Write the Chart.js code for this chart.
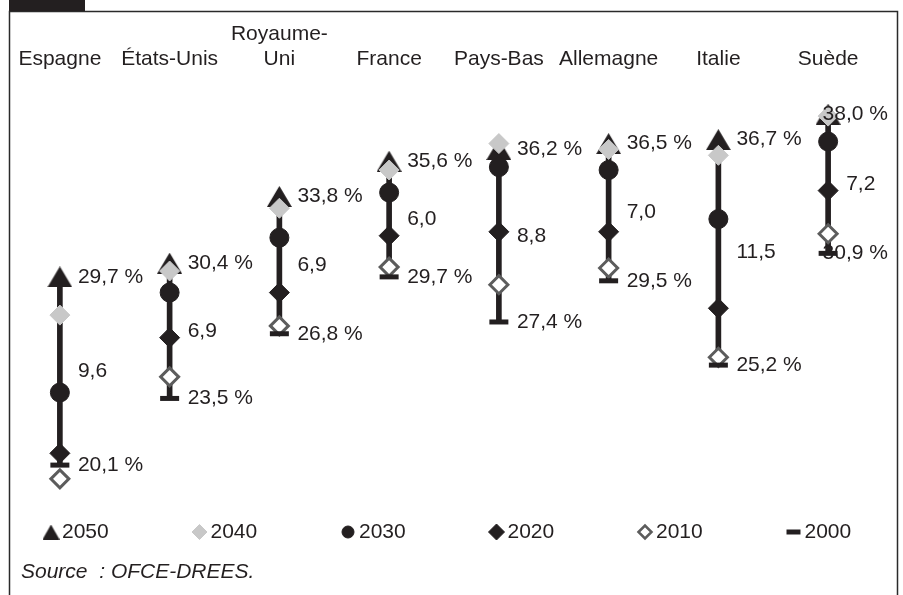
<!DOCTYPE html>
<html>
<head>
<meta charset="utf-8">
<script src="https://cdn.jsdelivr.net/npm/chart.js@4/dist/chart.umd.min.js"></script>
<style>
  html, body { margin: 0; padding: 0; background: #ffffff; }
  #wrap { width: 903px; height: 595px; position: relative; }
</style>
</head>
<body>
<div id="wrap"><canvas id="c"></canvas></div>
<script>
// ---- Data ----
const categories = ['Espagne', 'États-Unis', ['Royaume-', 'Uni'], 'France', 'Pays-Bas', 'Allemagne', 'Italie', 'Suède'];
const years = ['2050', '2040', '2030', '2020', '2010', '2000'];
const v2050 = [29.7, 30.4, 33.8, 35.6, 36.2, 36.5, 36.7, 38.0];
const v2040 = [27.75, 30.0, 33.2, 35.15, 36.5, 36.2, 35.9, 37.9];
const v2030 = [23.8, 28.9, 31.7, 34.0, 35.3, 35.15, 32.65, 36.6];
const v2020 = [20.7, 26.6, 28.9, 31.8, 32.0, 32.0, 28.1, 34.1];
const v2010 = [19.4, 24.6, 27.2, 30.2, 29.3, 30.15, 25.6, 31.9];
const v2000 = [20.1, 23.5, 26.8, 29.7, 27.4, 29.5, 25.2, 30.9];
const gaps  = [9.6, 6.9, 6.9, 6.0, 8.8, 7.0, 11.5, 7.2];
const sourceText = 'Source  : OFCE-DREES.';
const yMin = 18.32, yMax = 39.64;

const DARK = '#231f20';
const FONT = '"Liberation Sans", Arial, sans-serif';
const FS = 21;
const fmt = v => v.toFixed(1).replace('.', ',');

// triangle marker centred on its bounding box
function triangleCanvas(w, h, color) {
  const c = document.createElement('canvas');
  c.width = w; c.height = h;
  const g = c.getContext('2d');
  g.fillStyle = color;
  g.beginPath();
  g.moveTo(w / 2, 0);
  g.lineTo(w, h);
  g.lineTo(0, h);
  g.closePath();
  g.fill();
  return c;
}
const triBig = triangleCanvas(25, 21, DARK);
const triSmall = triangleCanvas(17, 15, DARK);

// marker styles (chart / legend)
const markerStyles = {
  '2050': { pointStyle: triBig, legendStyle: triSmall, fill: DARK, stroke: DARK, bw: 0, r: 12, lr: 8 },
  '2040': { pointStyle: 'rectRot', fill: '#c8c8c8', stroke: '#c8c8c8', bw: 1, r: 10, lr: 7.5 },
  '2030': { pointStyle: 'circle', fill: DARK, stroke: DARK, bw: 1, r: 9.5, lr: 6 },
  '2020': { pointStyle: 'rectRot', fill: DARK, stroke: DARK, bw: 1, r: 10, lr: 8 },
  '2010': { pointStyle: 'rectRot', fill: '#ffffff', stroke: '#5c5c5c', bw: 3, r: 9, lr: 6.5, lbw: 2.5 },
  '2000': { pointStyle: 'line', fill: DARK, stroke: DARK, bw: 5, r: 9.5, lr: 7, lbw: 5 }
};
const seriesByYear = { '2050': v2050, '2040': v2040, '2030': v2030, '2020': v2020, '2010': v2010, '2000': v2000 };

const pointDatasets = years.map((yr, k) => {
  const s = markerStyles[yr];
  return {
    type: 'line',
    label: yr,
    data: seriesByYear[yr],
    showLine: false,
    pointStyle: s.pointStyle,
    pointRadius: s.r,
    pointHoverRadius: s.r,
    pointBackgroundColor: s.fill,
    pointBorderColor: s.stroke,
    pointBorderWidth: s.bw,
    borderColor: s.stroke,
    borderWidth: s.bw,
    clip: false,
    order: 6 - k
  };
});

const rangeDataset = {
  type: 'bar',
  label: 'écart',
  data: v2000.map((v, i) => [v, v2050[i]]),
  backgroundColor: DARK,
  borderWidth: 0,
  barThickness: 5,
  order: 10
};

const framePlugin = {
  id: 'frame',
  beforeDraw(chart) {
    const ctx = chart.ctx;
    ctx.save();
    ctx.fillStyle = '#ffffff';
    ctx.fillRect(0, 0, chart.width, chart.height);
    ctx.strokeStyle = '#2a2a2a';
    ctx.lineWidth = 1.5;
    ctx.beginPath();
    ctx.moveTo(9.5, chart.height + 5);
    ctx.lineTo(9.5, 11.5);
    ctx.lineTo(897.5, 11.5);
    ctx.lineTo(897.5, chart.height + 5);
    ctx.stroke();
    ctx.fillStyle = DARK;
    ctx.fillRect(9, 0, 76, 11);
    ctx.restore();
  }
};

const labelPlugin = {
  id: 'valueLabels',
  afterDatasetsDraw(chart) {
    const ctx = chart.ctx;
    const xs = chart.scales.x, ys = chart.scales.y;
    const rightLimit = 888;
    ctx.save();
    ctx.font = FS + 'px ' + FONT;
    ctx.fillStyle = DARK;
    ctx.textBaseline = 'middle';
    ctx.textAlign = 'left';
    categories.forEach((c, i) => {
      const x = xs.getPixelForValue(i);
      const items = [
        { t: fmt(v2050[i]) + ' %', y: ys.getPixelForValue(v2050[i]) },
        { t: fmt(gaps[i]), y: ys.getPixelForValue((v2050[i] + v2000[i]) / 2) },
        { t: fmt(v2000[i]) + ' %', y: ys.getPixelForValue(v2000[i]) }
      ];
      items.forEach(it => {
        const w = ctx.measureText(it.t).width;
        let tx = x + 18;
        if (tx + w > rightLimit) tx = rightLimit - w;
        ctx.fillText(it.t, tx, it.y);
      });
    });
    ctx.restore();
  },
  afterDraw(chart) {
    const ctx = chart.ctx;
    ctx.save();
    // legend
    const legendY = 532;
    const x0 = 51, step = 148.5, gap = 11;
    ctx.font = FS + 'px ' + FONT;
    ctx.textBaseline = 'middle';
    ctx.textAlign = 'left';
    years.forEach((yr, k) => {
      const s = markerStyles[yr];
      const cx = x0 + k * step;
      ctx.fillStyle = s.fill;
      ctx.strokeStyle = s.stroke;
      ctx.lineWidth = s.lbw || 1;
      const style = s.legendStyle || s.pointStyle;
      Chart.helpers.drawPoint(ctx, { pointStyle: style, rotation: 0, radius: s.lr, borderWidth: s.lbw || 1 }, cx, legendY);
      ctx.fillStyle = DARK;
      ctx.fillText(yr, cx + gap, legendY);
    });
    // source
    ctx.font = 'italic ' + FS + 'px ' + FONT;
    ctx.fillStyle = DARK;
    ctx.fillText(sourceText, 21, 572);
    ctx.restore();
  }
};

new Chart(document.getElementById('c'), {
  type: 'bar',
  data: {
    labels: categories,
    datasets: [...pointDatasets, rangeDataset]
  },
  options: {
    responsive: true,
    maintainAspectRatio: false,
    animation: false,
    devicePixelRatio: 1,
    layout: { autoPadding: false, padding: { top: 22, left: 5, right: 20, bottom: 95 } },
    plugins: {
      legend: { display: false },
      tooltip: { enabled: false },
      title: { display: false }
    },
    scales: {
      x: {
        position: 'top',
        offset: true,
        grid: { display: false, drawTicks: false },
        border: { display: false },
        ticks: {
          color: DARK,
          padding: 10,
          maxRotation: 0,
          autoSkip: false,
          font: { family: FONT, size: FS, lineHeight: 1.2 }
        },
        afterFit(scale) {
          scale.height = 60;
          scale.paddingLeft = 0;
          scale.paddingRight = 0;
        }
      },
      y: {
        display: false,
        min: yMin,
        max: yMax
      }
    }
  },
  plugins: [framePlugin, labelPlugin]
});
</script>
</body>
</html>
